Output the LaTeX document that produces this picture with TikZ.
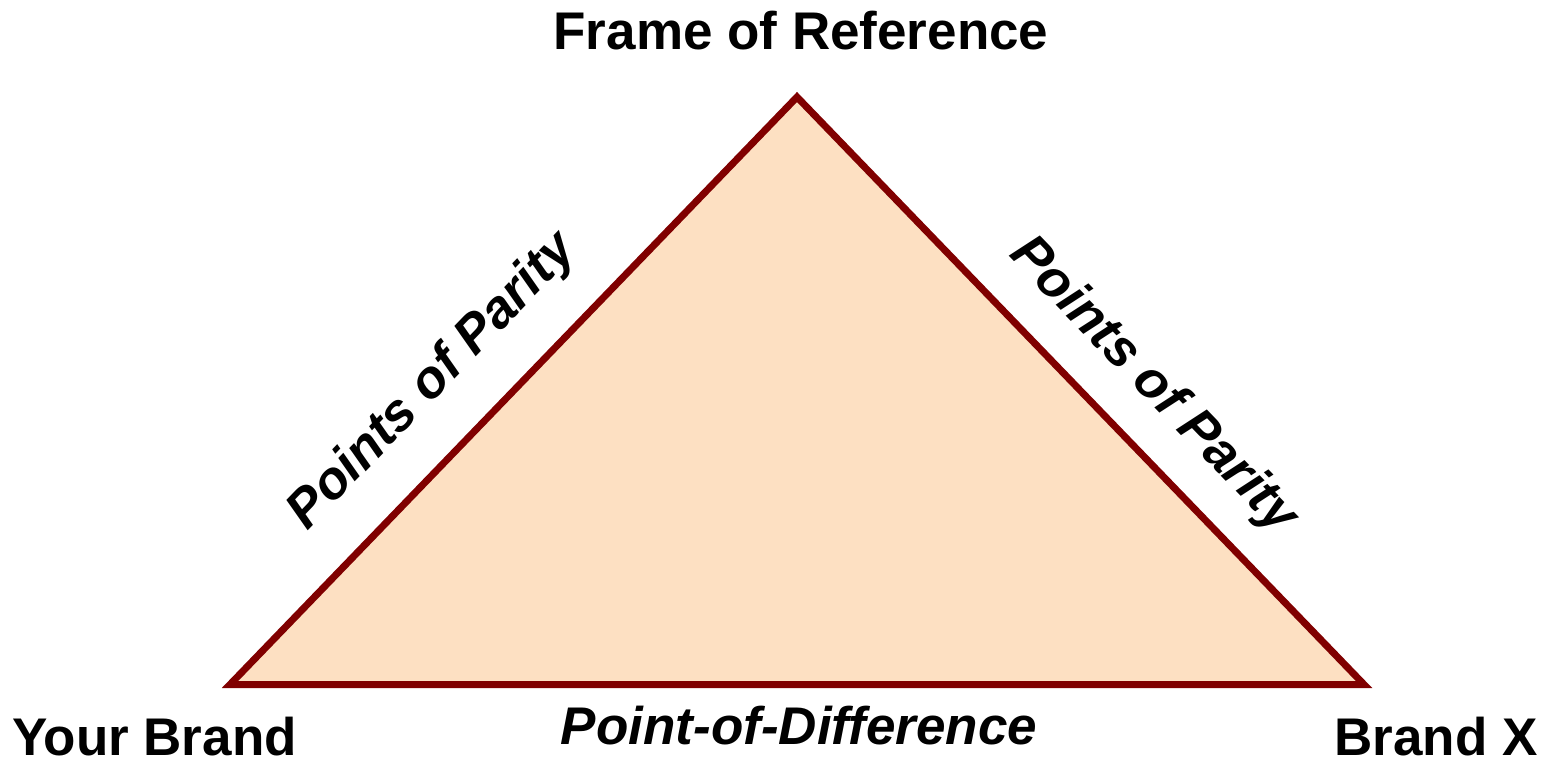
\documentclass[tikz,border=0pt]{standalone}
\usepackage{fontspec}
\setmainfont{Liberation Sans}
\definecolor{edgered}{HTML}{800000}
\definecolor{peach}{HTML}{FDE0C2}
\begin{document}
\begin{tikzpicture}[x=1pt,y=-1pt,
  lbl/.style={font=\fontsize{53}{60}\selectfont\bfseries, inner sep=0pt},
  ilbl/.style={font=\fontsize{53}{60}\selectfont\bfseries\itshape, inner sep=0pt},
  tri/.style={draw=edgered, fill=peach, line width=7pt, line join=miter}]
\useasboundingbox (0,0) rectangle (1549,760);
\coordinate (apex) at (797,97);
\coordinate (yb) at (230,684.5);
\coordinate (bx) at (1364,684.5);
\draw[tri] (yb) -- (apex) -- (bx) -- cycle;
\node[lbl, anchor=base] (fr) at (801,49) {Frame of Reference};
\node[lbl, anchor=base west] (ybl) at (12,755) {Your Brand};
\node[lbl, anchor=base east] (bxl) at (1538,755) {Brand X};
\node[ilbl, anchor=base] (pod) at (799,744) {Point-of-Difference};
\node[ilbl, rotate=46] (pop1) at (433,382) {Points of Parity};
\node[ilbl, rotate=-46] (pop2) at (1153,386) {Points of Parity};
\end{tikzpicture}
\end{document}
